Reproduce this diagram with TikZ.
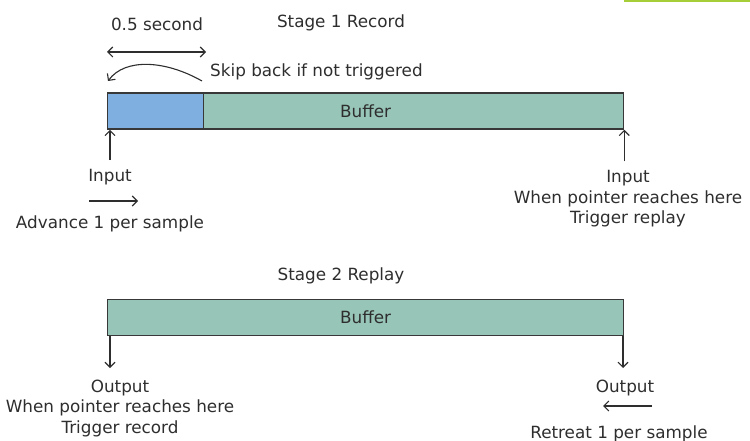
\documentclass[tikz,border=0pt]{standalone}
\usepackage{fontspec}
\setmainfont{DejaVu Sans}
\usetikzlibrary{arrows.meta,positioning}
\definecolor{bufteal}{HTML}{97C5B7}
\definecolor{bufblue}{HTML}{7FAEE0}
\definecolor{edge}{HTML}{383838}
\definecolor{ink}{HTML}{2E2E2E}
\definecolor{tabgreen}{HTML}{A6CE39}
\begin{document}
\begin{tikzpicture}[x=1pt,y=-1pt,
  lbl/.style={font=\fontsize{16.8}{20.5}\selectfont, text=ink, inner sep=0pt},
  arr/.style={-{Straight Barb[length=5pt,width=10pt]}, line width=1.1pt, draw=ink},
  buf/.style={draw=edge, line width=1.3pt, fill=bufteal, minimum height=36pt, inner sep=0pt,
    anchor=north west, font=\fontsize{16.8}{20.5}\selectfont, text=ink}]
\useasboundingbox (0,0) rectangle (750,441);
% corner tab
\fill[tabgreen] (624,0) rectangle (750,2);
% Stage 1: record
\node[lbl, anchor=base] (s1) at (341,27.5) {Stage 1 Record};
\node[buf, minimum width=516pt] (rec) at (107,92.5) {Buffer};
\node[buf, fill=bufblue, minimum width=96pt] (head) at (rec.north west) {};
% half second span and skip back
\node[lbl, anchor=base] (dur) at (157,31) {0.5 second};
\coordinate (durL) at (107,52);
\coordinate (durR) at (206,52);
\draw[arr, {Straight Barb[length=5pt,width=10pt]}-{Straight Barb[length=5pt,width=10pt]}] (durL) -- (durR);
\coordinate (skipR) at (202,81);
\coordinate (skipL) at (108,81);
\draw[arr] (skipR) .. controls (165,60) and (125,58) .. (skipL);
\node[lbl, anchor=base west] (skip) at (210,77) {Skip back if not triggered};
% input pointers
\node[lbl, anchor=base] (inL) at (110,182) {Input};
\draw[arr] ([yshift=9.5pt]inL.north) -- (inL.north |- rec.south);
\coordinate (advL) at (89,201);
\coordinate (advR) at (138,201);
\draw[arr] (advL) -- (advR);
\node[lbl, anchor=base] (adv) at (110,228) {Advance 1 per sample};
\node[lbl, anchor=north, align=center] (inR) at (628,170.5) {Input\\When pointer reaches here\\Trigger replay};
\draw[arr] ([yshift=9pt]inR.north -| rec.east) -- (rec.south east);
% Stage 2: replay
\node[lbl, anchor=base] (s2) at (341,280) {Stage 2 Replay};
\node[buf, minimum width=516pt] (rep) at (107,298.5) {Buffer};
% output pointers
\coordinate (outLtip) at (110,368);
\coordinate (outRtip) at (623,368);
\draw[arr] (rep.south -| outLtip) -- (outLtip);
\draw[arr] (rep.south -| outRtip) -- (outRtip);
\node[lbl, anchor=north, align=center] (outL) at (120,379.5) {Output\\When pointer reaches here\\Trigger record};
\node[lbl, anchor=base] (outR) at (625,392) {Output};
\coordinate (retR) at (652,406);
\coordinate (retL) at (603,406);
\draw[arr] (retR) -- (retL);
\node[lbl, anchor=base] (ret) at (619,438) {Retreat 1 per sample};
\end{tikzpicture}
\end{document}
